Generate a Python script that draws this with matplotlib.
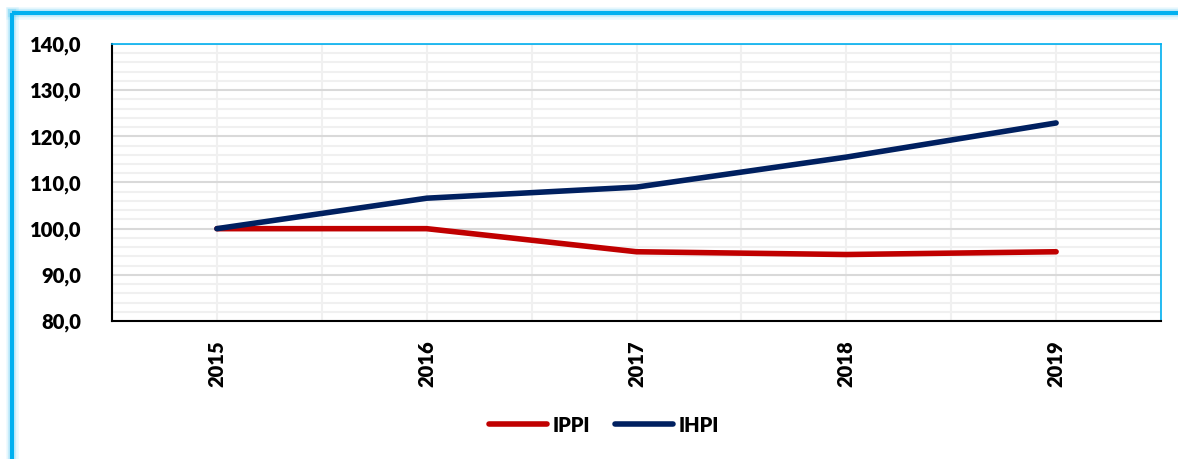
import matplotlib
matplotlib.use("Agg")
import matplotlib.pyplot as plt
from matplotlib.lines import Line2D
from matplotlib.ticker import MultipleLocator, FuncFormatter

years = ["2015", "2016", "2017", "2018", "2019"]
ippi = [100.0, 100.0, 95.0, 94.4, 95.0]
ihpi = [100.0, 106.6, 109.0, 115.5, 122.9]
series_names = ["IPPI", "IHPI"]
colors = ["#C00000", "#002060"]

plt.rcParams['font.family'] = ['Lato', 'DejaVu Sans']
W, H = 1178, 459
fig = plt.figure(figsize=(W/100, H/100), dpi=100)

# outer frame lines (top and left) with glow
for lw, alpha in [(9, 0.08), (6, 0.15)]:
    fig.add_artist(Line2D([12/W, 1.0], [1-13/H, 1-13/H], color="#00B0F0", lw=lw, alpha=alpha, transform=fig.transFigure))
    fig.add_artist(Line2D([12/W, 12/W], [0, 1-13/H], color="#00B0F0", lw=lw, alpha=alpha, transform=fig.transFigure))
fig.add_artist(Line2D([12/W, 1.0], [1-13/H, 1-13/H], color="#00B0F0", lw=3, transform=fig.transFigure, solid_capstyle='butt'))
fig.add_artist(Line2D([12/W, 12/W], [0, 1-13/H], color="#00B0F0", lw=3, transform=fig.transFigure, solid_capstyle='butt'))

left, right, top, bottom = 112, 1161, 44, 321
ax = fig.add_axes([left/W, 1-bottom/H, (right-left)/W, (bottom-top)/H])
x = list(range(len(years)))
ax.plot(x, ippi, color=colors[0], lw=4.0, solid_capstyle='round', label=series_names[0], zorder=3)
ax.plot(x, ihpi, color=colors[1], lw=4.0, solid_capstyle='round', label=series_names[1], zorder=4)

ax.set_xlim(-0.5, len(years)-0.5)
ax.set_ylim(80, 140)
ax.yaxis.set_major_locator(MultipleLocator(10))
ax.yaxis.set_minor_locator(MultipleLocator(2))
ax.yaxis.set_major_formatter(FuncFormatter(lambda v, p: f"{v:.1f}".replace(".", ",")))
ax.set_xticks(x)
ax.set_xticks([i + 0.5 for i in range(-1, len(years))], minor=True)
ax.set_xticklabels(years, rotation=90, fontsize=14.5, fontweight='heavy')
for lab in ax.get_yticklabels():
    lab.set_fontsize(14.5)
    lab.set_fontweight('heavy')
ax.tick_params(axis='both', which='both', length=0)
ax.tick_params(axis='y', pad=22)
ax.tick_params(axis='x', pad=14)
ax.grid(True, which='major', axis='y', color='#D9D9D9', lw=1.5)
ax.grid(True, which='minor', axis='y', color='#F0F0F0', lw=1.5)
ax.grid(True, which='both', axis='x', color='#F0F0F0', lw=1.5)
ax.set_axisbelow(True)
ax.spines['left'].set_color('black'); ax.spines['left'].set_linewidth(1.5)
ax.spines['bottom'].set_color('black'); ax.spines['bottom'].set_linewidth(1.5)
ax.spines['top'].set_color('#00B0F0'); ax.spines['top'].set_linewidth(1.2)
ax.spines['right'].set_color('#00B0F0'); ax.spines['right'].set_linewidth(1.2)

leg = fig.legend(handles=ax.get_lines(), labels=series_names, loc='center', bbox_to_anchor=(604/W, 1-425/H),
                 ncol=2, frameon=False, prop={'size': 14.5, 'weight': 'heavy'}, handlelength=2.9,
                 columnspacing=1.2, handletextpad=0.3)

fig.savefig("out.png", dpi=100)
